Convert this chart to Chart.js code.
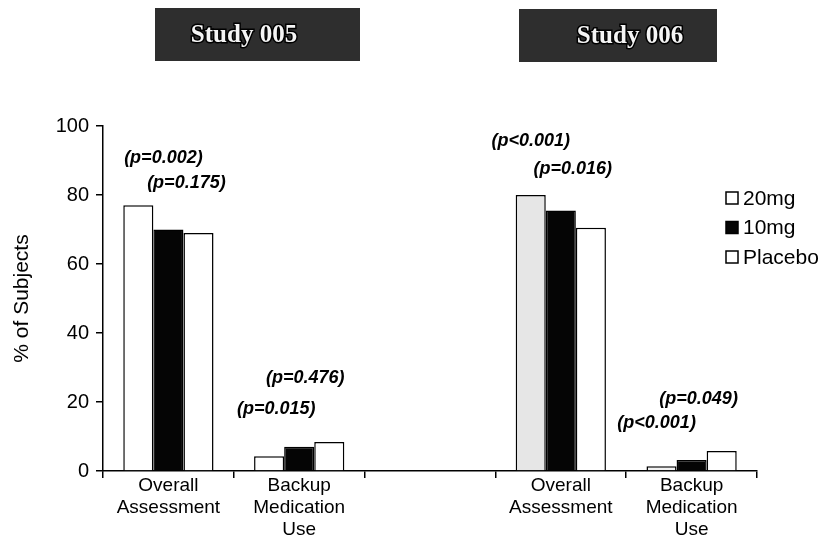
<!DOCTYPE html>
<html><head><meta charset="utf-8">
<script src="https://cdn.jsdelivr.net/npm/chart.js@4"></script>
<style>html,body{margin:0;padding:0;background:#fff}#wrap{width:829px;height:541px}</style>
</head><body><div id="wrap"><canvas id="c" width="829" height="541"></canvas></div>
<script>
// ---- data ----
const categories = [["Overall","Assessment"],["Backup","Medication","Use"],"",["Overall","Assessment"],["Backup","Medication","Use"]];
const seriesNames = ["20mg","10mg","Placebo"];
const dose20 = [77, 4.3, null, 80, 1.4];
const dose10 = [70, 7, null, 75.5, 3.2];
const placebo = [69, 8.4, null, 70.5, 5.8];
const yTicks = [0,20,40,60,80,100];
const studyTitles = ["Study 005","Study 006"];
const pLabels = ["(p=0.002)","(p=0.175)","(p=0.476)","(p=0.015)","(p<0.001)","(p=0.016)","(p=0.049)","(p<0.001)"];
const pCategory = [0,0,1,1,3,3,4,4];

const FONT = '"Liberation Sans", Arial, sans-serif';

const overlay = {
  id: 'overlay',
  afterDraw(chart, args, opts) {
    const ctx = chart.ctx, xs = chart.scales.x, ys = chart.scales.y;
    ctx.save();
    // study title boxes
    opts.boxes.forEach((b, i) => {
      ctx.fillStyle = '#2e2e2e';
      ctx.fillRect(b.x, b.y, b.w, b.h);
      ctx.font = 'bold 25px "Liberation Serif", serif';
      ctx.textAlign = 'center';
      ctx.textBaseline = 'middle';
      ctx.lineWidth = 3; ctx.strokeStyle = '#000';
      ctx.strokeText(studyTitles[i], b.tx, b.y + b.h / 2 + 1);
      ctx.fillStyle = '#f4f4f4';
      ctx.fillText(studyTitles[i], b.tx, b.y + b.h / 2 + 1);
    });
    // p-value annotations
    ctx.font = 'italic bold 18px ' + FONT;
    ctx.fillStyle = '#000';
    ctx.textAlign = 'center';
    ctx.textBaseline = 'middle';
    opts.pPos.forEach((p, i) => {
      ctx.fillText(pLabels[i], xs.getPixelForValue(pCategory[i]) + p.dx, ys.getPixelForValue(p.v));
    });
    // legend
    const L = opts.legend;
    ctx.font = '21px ' + FONT;
    ctx.textAlign = 'left';
    chart.data.datasets.forEach((ds, i) => {
      const cy = L.y + i * L.gap;
      ctx.fillStyle = ds.legendFill;
      ctx.fillRect(L.x, cy - L.size / 2, L.size, L.size);
      ctx.lineWidth = 1.5; ctx.strokeStyle = '#000';
      ctx.strokeRect(L.x, cy - L.size / 2, L.size, L.size);
      ctx.fillStyle = '#000';
      ctx.fillText(ds.label, L.x + L.size + 5, cy + 1);
    });
    ctx.restore();
  }
};

new Chart(document.getElementById('c'), {
  type: 'bar',
  data: {
    labels: categories,
    datasets: [
      { label: seriesNames[0], data: dose20, backgroundColor: ['#ffffff','#ffffff','#ffffff','#e6e6e6','#f2f2f2'], legendFill: '#ffffff', borderColor: '#000', borderWidth: 1.5 },
      { label: seriesNames[1], data: dose10, backgroundColor: '#050505', legendFill: '#050505', borderColor: '#000', borderWidth: 1.5 },
      { label: seriesNames[2], data: placebo, backgroundColor: '#ffffff', legendFill: '#ffffff', borderColor: '#000', borderWidth: 1.5 }
    ]
  },
  options: {
    responsive: false,
    animation: false,
    layout: { padding: { left: 0, right: 72, top: 126, bottom: 0 } },
    datasets: { bar: { categoryPercentage: 0.69, barPercentage: 1.0 } },
    plugins: {
      legend: { display: false },
      tooltip: { enabled: false },
      overlay: {
        boxes: [
          { x: 155, y: 8, w: 205, h: 53, tx: 244 },
          { x: 519, y: 9, w: 198, h: 53, tx: 630 }
        ],
        pPos: [
          { dx: -5, v: 90.7 }, { dx: 18, v: 83.5 },
          { dx: 6, v: 27 }, { dx: -23, v: 18 },
          { dx: -30, v: 95.7 }, { dx: 12, v: 87.5 },
          { dx: 7, v: 21 }, { dx: -35, v: 14 }
        ],
        legend: { x: 726, y: 198, gap: 29.5, size: 12 }
      }
    },
    scales: {
      x: {
        offset: true,
        grid: { offset: true, drawOnChartArea: false, color: '#000', tickLength: 7, lineWidth: 1.5 },
        border: { color: '#000', width: 1.5 },
        ticks: { color: '#000', font: { family: FONT, size: 19, lineHeight: 1.16 }, maxRotation: 0, autoSkip: false, padding: -3 },
        afterFit(s) { s.height = 70; }
      },
      y: {
        min: 0, max: 100,
        afterBuildTicks(s) { s.ticks = yTicks.map(v => ({ value: v })); },
        grid: { drawOnChartArea: false, color: '#000', tickLength: 7, lineWidth: 1.5 },
        border: { color: '#000', width: 1.5 },
        ticks: { color: '#000', font: { family: FONT, size: 20 }, padding: 7 },
        title: { display: true, text: '% of Subjects', color: '#000', font: { family: FONT, size: 21 }, padding: { top: 10, bottom: 0 } },
        afterFit(s) { s.width = 103; }
      }
    }
  },
  plugins: [overlay]
});
</script>
</body></html>
